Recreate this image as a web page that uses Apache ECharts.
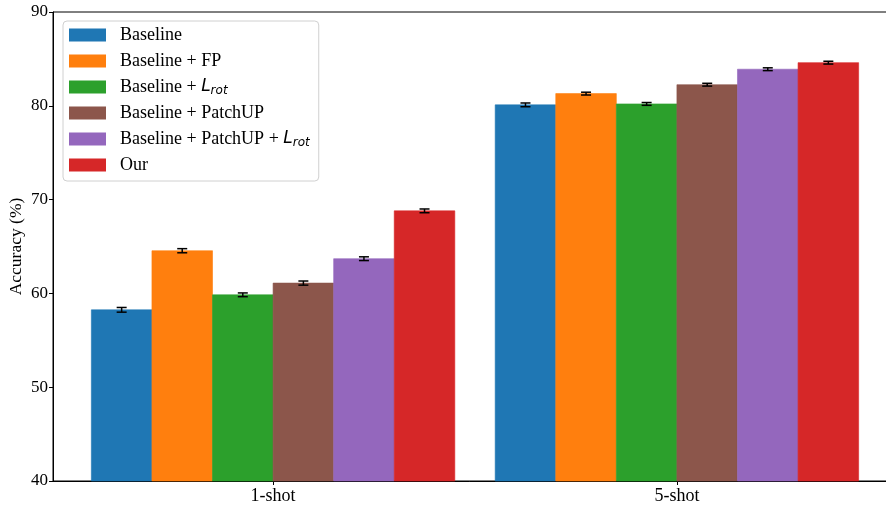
<!DOCTYPE html>
<html>
<head>
<meta charset="utf-8">
<script src="https://cdn.jsdelivr.net/npm/echarts@6/dist/echarts.min.js"></script>
<style>
  html, body { margin: 0; padding: 0; background: #fff; }
  #chart { width: 886px; height: 507px; }
</style>
</head>
<body>
<div id="chart"></div>
<script>
// Few-shot accuracy (%) per method, with error-bar half widths
const shots = ['1-shot', '5-shot'];
const methods = ['Baseline', 'Baseline + FP', 'Baseline + Lrot', 'Baseline + PatchUP', 'Baseline + PatchUP + Lrot', 'Our'];
const colors = ['#1f77b4', '#ff7f0e', '#2ca02c', '#8c564b', '#9467bd', '#d62728'];
const baseline = [58.25, 80.1];
const baselineFP = [64.55, 81.3];
const baselineLrot = [59.85, 80.2];
const baselinePatchUP = [61.1, 82.25];
const baselinePatchUPLrot = [63.7, 83.9];
const ours = [68.8, 84.6];
const errBaseline = [0.25, 0.2];
const errFP = [0.22, 0.15];
const errLrot = [0.2, 0.15];
const errPatchUP = [0.22, 0.15];
const errPatchUPLrot = [0.2, 0.15];
const errOurs = [0.2, 0.15];
const yTicks = [40, 50, 60, 70, 80, 90];

const values = [baseline, baselineFP, baselineLrot, baselinePatchUP, baselinePatchUPLrot, ours];
const errors = [errBaseline, errFP, errLrot, errPatchUP, errPatchUPLrot, errOurs];

const barWidth = 0.15;          // in x-axis units (one group per unit)
const yFloor = yTicks[0];

function makeSeries(k) {
  const offset = (k - (methods.length - 1) / 2) * barWidth;
  return {
    name: methods[k],
    type: 'custom',
    color: colors[k],
    itemStyle: { color: colors[k] },
    clip: false,
    data: shots.map((s, i) => [i, values[k][i], errors[k][i]]),
    renderItem: function (params, api) {
      const xc = api.value(0) + offset;
      const v = api.value(1);
      const e = api.value(2);
      const tl = api.coord([xc - barWidth / 2, v]);
      const br = api.coord([xc + barWidth / 2, yFloor]);
      const top = api.coord([xc, v + e]);
      const bot = api.coord([xc, v - e]);
      const cap = 5;
      const lineStyle = { stroke: '#000', lineWidth: 1.5 };
      return {
        type: 'group',
        children: [
          { type: 'rect', shape: { x: tl[0], y: tl[1], width: br[0] - tl[0], height: br[1] - tl[1] },
            style: { fill: colors[k], stroke: colors[k], lineWidth: 0.6 } },
          { type: 'line', shape: { x1: top[0], y1: top[1], x2: bot[0], y2: bot[1] }, style: lineStyle },
          { type: 'line', shape: { x1: top[0] - cap, y1: top[1], x2: top[0] + cap, y2: top[1] }, style: lineStyle },
          { type: 'line', shape: { x1: bot[0] - cap, y1: bot[1], x2: bot[0] + cap, y2: bot[1] }, style: lineStyle }
        ]
      };
    }
  };
}

const serif = '"Liberation Serif", "Times New Roman", serif';
const chart = echarts.init(document.getElementById('chart'), null, { renderer: 'canvas' });
chart.setOption({
  animation: false,
  backgroundColor: '#fff',
  grid: {
    left: 53, top: 12, width: 844, height: 469,
    outerBoundsMode: 'none', containLabel: false,
    show: true, borderColor: '#000', borderWidth: 1, backgroundColor: 'transparent'
  },
  legend: {
    left: 63, top: 21,
    orient: 'vertical',
    padding: [4, 9, 6, 6],
    itemWidth: 37, itemHeight: 13, itemGap: 6,
    icon: 'rect',
    backgroundColor: 'rgba(255,255,255,0.8)',
    borderColor: '#d0d0d0', borderWidth: 1, borderRadius: 4,
    data: methods,
    formatter: function (name) {
      return name.replace('Lrot', '{i|L}{s|rot}');
    },
    textStyle: {
      fontFamily: serif, fontSize: 18, color: '#000', padding: [0, 0, 0, 9], lineHeight: 20,
      rich: {
        i: { fontFamily: '"DejaVu Sans"', fontStyle: 'italic', fontSize: 17, color: '#000', lineHeight: 20 },
        s: { fontFamily: '"DejaVu Sans"', fontStyle: 'italic', fontSize: 12, color: '#000', lineHeight: 12, verticalAlign: 'bottom' }
      }
    }
  },
  xAxis: {
    type: 'value',
    min: -0.545, max: 1.545,
    axisLine: { onZero: false, lineStyle: { color: '#000', width: 1 } },
    axisTick: { show: true, length: 4, lineStyle: { color: '#000' }, customValues: [0, 1] },
    axisLabel: { customValues: [0, 1], fontFamily: serif, fontSize: 18, color: '#000', margin: 6,
      formatter: function (v) { return shots[Math.round(v)]; } },
    splitLine: { show: false }
  },
  yAxis: {
    type: 'value',
    min: yTicks[0], max: yTicks[yTicks.length - 1], interval: 10,
    name: 'Accuracy (%)', nameLocation: 'middle', nameGap: 28, nameMoveOverlap: false,
    nameTextStyle: { fontFamily: serif, fontSize: 17.5, color: '#000' },
    axisLine: { show: true, onZero: false, lineStyle: { color: '#000', width: 1 } },
    axisTick: { show: true, length: 4, lineStyle: { color: '#000' } },
    axisLabel: { fontFamily: serif, fontSize: 17, color: '#000', margin: 5 },
    splitLine: { show: false }
  },
  series: methods.map((m, k) => makeSeries(k))
});
</script>
</body>
</html>
